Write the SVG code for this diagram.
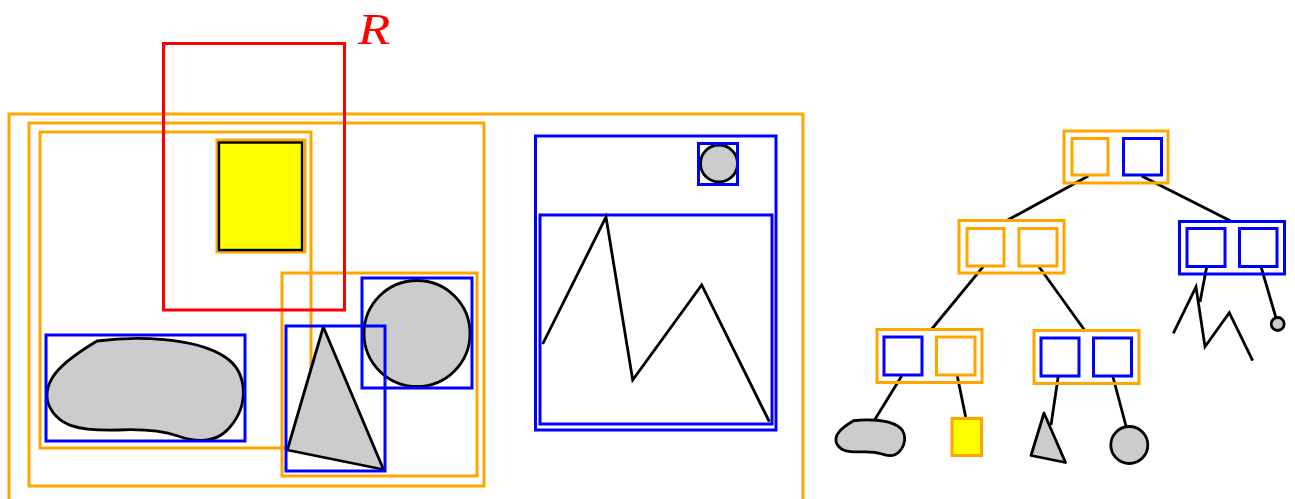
<svg xmlns="http://www.w3.org/2000/svg" width="1295" height="499" viewBox="0 0 1295 499">
<style>
.o{fill:none;stroke:#FFA500;stroke-width:3}
.b{fill:none;stroke:#0000FF;stroke-width:3}
.r{fill:none;stroke:#FF0000;stroke-width:3}
.sh{fill:#CCCCCC;stroke:#000;stroke-width:2.8;stroke-linejoin:round}
.ln{fill:none;stroke:#000;stroke-width:2.8}
.e{stroke:#000;stroke-width:2.8;fill:none}
</style>
<rect width="1295" height="499" fill="#fff"/>
<g id="scene">
<rect class="o" x="9" y="114" width="794" height="402"/>
<rect class="o" x="29" y="123" width="455" height="363"/>
<rect class="o" x="40" y="132" width="271" height="316"/>
<rect class="o" x="282" y="273" width="195" height="203"/>
<g id="yellow-rect">
<rect class="o" x="217" y="140" width="88" height="112"/>
<rect x="219" y="142.5" width="83" height="107.5" fill="#FFFF00" stroke="#000" stroke-width="2.4"/>
</g>
<g id="blob">
<path class="sh" d="M97,341 C135,336 195,337 225,357 C248,372 249,405 230,427 C216,444 195,442 178,436 C160,430 140,429 118,430 C80,431 57,427 48,403 C42,380 62,362 97,341 Z"/>
<rect class="b" x="46" y="335" width="199" height="106"/>
</g>
<g id="circle">
<circle class="sh" cx="417" cy="333.5" r="53"/>
<rect class="b" x="362" y="278" width="110" height="110"/>
</g>
<g id="triangle">
<polygon class="sh" points="323.3,327 287.3,450 383.5,469.5"/>
<rect class="b" x="286" y="326" width="99" height="145"/>
</g>
<g id="landscape">
<rect class="b" x="535.5" y="136" width="240.5" height="294"/>
<rect class="b" x="540" y="215" width="232" height="209"/>
<circle class="sh" cx="719" cy="163.5" r="18.5"/>
<rect class="b" x="698.5" y="143.5" width="39" height="41"/>
<polyline class="ln" points="542.7,344 606,217 632.7,380 701.7,285 769.3,421.7"/>
</g>
<g id="query-R">
<rect class="r" x="163.5" y="43.5" width="181" height="266.5"/>
<text transform="translate(358,44) scale(1.2,1)" font-family="'Liberation Serif', serif" font-style="italic" font-size="44" fill="#FF0000">R</text>
</g>
</g>
<g id="connectors">
<line class="e" x1="1088.3" y1="176" x2="1006" y2="221"/>
<line class="e" x1="1141.7" y1="176" x2="1230.7" y2="221"/>
<line class="e" x1="984" y1="265.7" x2="931" y2="330"/>
<line class="e" x1="1038.3" y1="265.7" x2="1085" y2="330.7"/>
<line class="e" x1="901.7" y1="376" x2="875" y2="419.3"/>
<line class="e" x1="957.3" y1="376" x2="965.7" y2="417"/>
<line class="e" x1="1058.3" y1="376" x2="1051" y2="425"/>
<line class="e" x1="1112.7" y1="376" x2="1126" y2="426"/>
<line class="e" x1="1206.7" y1="266.7" x2="1200" y2="302"/>
<line class="e" x1="1261" y1="266.7" x2="1276" y2="318"/>
</g>
<g id="node-root">
<rect class="o" x="1064" y="131" width="104" height="52"/>
<rect class="o" x="1072" y="138.5" width="36" height="36.5"/>
<rect class="b" x="1123.5" y="138.5" width="38" height="36.5"/>
</g>
<g id="node-mid-left">
<rect class="o" x="959" y="220.5" width="105" height="52.5"/>
<rect class="o" x="967" y="228.5" width="37" height="37.5"/>
<rect class="o" x="1019" y="228.5" width="38" height="37.5"/>
</g>
<g id="node-mid-right">
<rect class="b" x="1179.5" y="221.5" width="105" height="52.5"/>
<rect class="b" x="1187" y="228.5" width="38" height="38"/>
<rect class="b" x="1239.5" y="228.5" width="37.5" height="38"/>
</g>
<g id="node-bottom-left">
<rect class="o" x="877" y="329.5" width="105" height="53"/>
<rect class="b" x="884" y="337" width="38" height="38"/>
<rect class="o" x="936.5" y="337" width="38.5" height="38"/>
</g>
<g id="node-bottom-right">
<rect class="o" x="1034" y="330.5" width="105" height="53"/>
<rect class="b" x="1041" y="338" width="38" height="38"/>
<rect class="b" x="1093.5" y="338" width="38" height="38"/>
</g>
<g id="leaf-blob">
<g transform="translate(819.5,301.4) scale(0.35)">
<path class="sh" vector-effect="non-scaling-stroke" d="M97,341 C135,336 195,337 225,357 C248,372 249,405 230,427 C216,444 195,442 178,436 C160,430 140,429 118,430 C80,431 57,427 48,403 C42,380 62,362 97,341 Z"/>
</g>
</g>
<g id="leaf-yellow">
<rect x="952" y="418.5" width="29.5" height="37" fill="#FFFF00" stroke="#FFA500" stroke-width="3"/>
</g>
<g id="leaf-triangle">
<polygon class="sh" points="1044,413 1031,455.5 1065.5,462.5"/>
</g>
<g id="leaf-circle">
<circle class="sh" cx="1129.3" cy="445" r="18.5"/>
</g>
<g id="leaf-zigzag">
<polyline class="ln" points="1173.3,333.3 1196,287 1205,346.7 1229.3,312.7 1252.7,360.7"/>
</g>
<g id="leaf-small-circle">
<circle class="sh" cx="1277.7" cy="324" r="6.5"/>
</g>
</svg>
